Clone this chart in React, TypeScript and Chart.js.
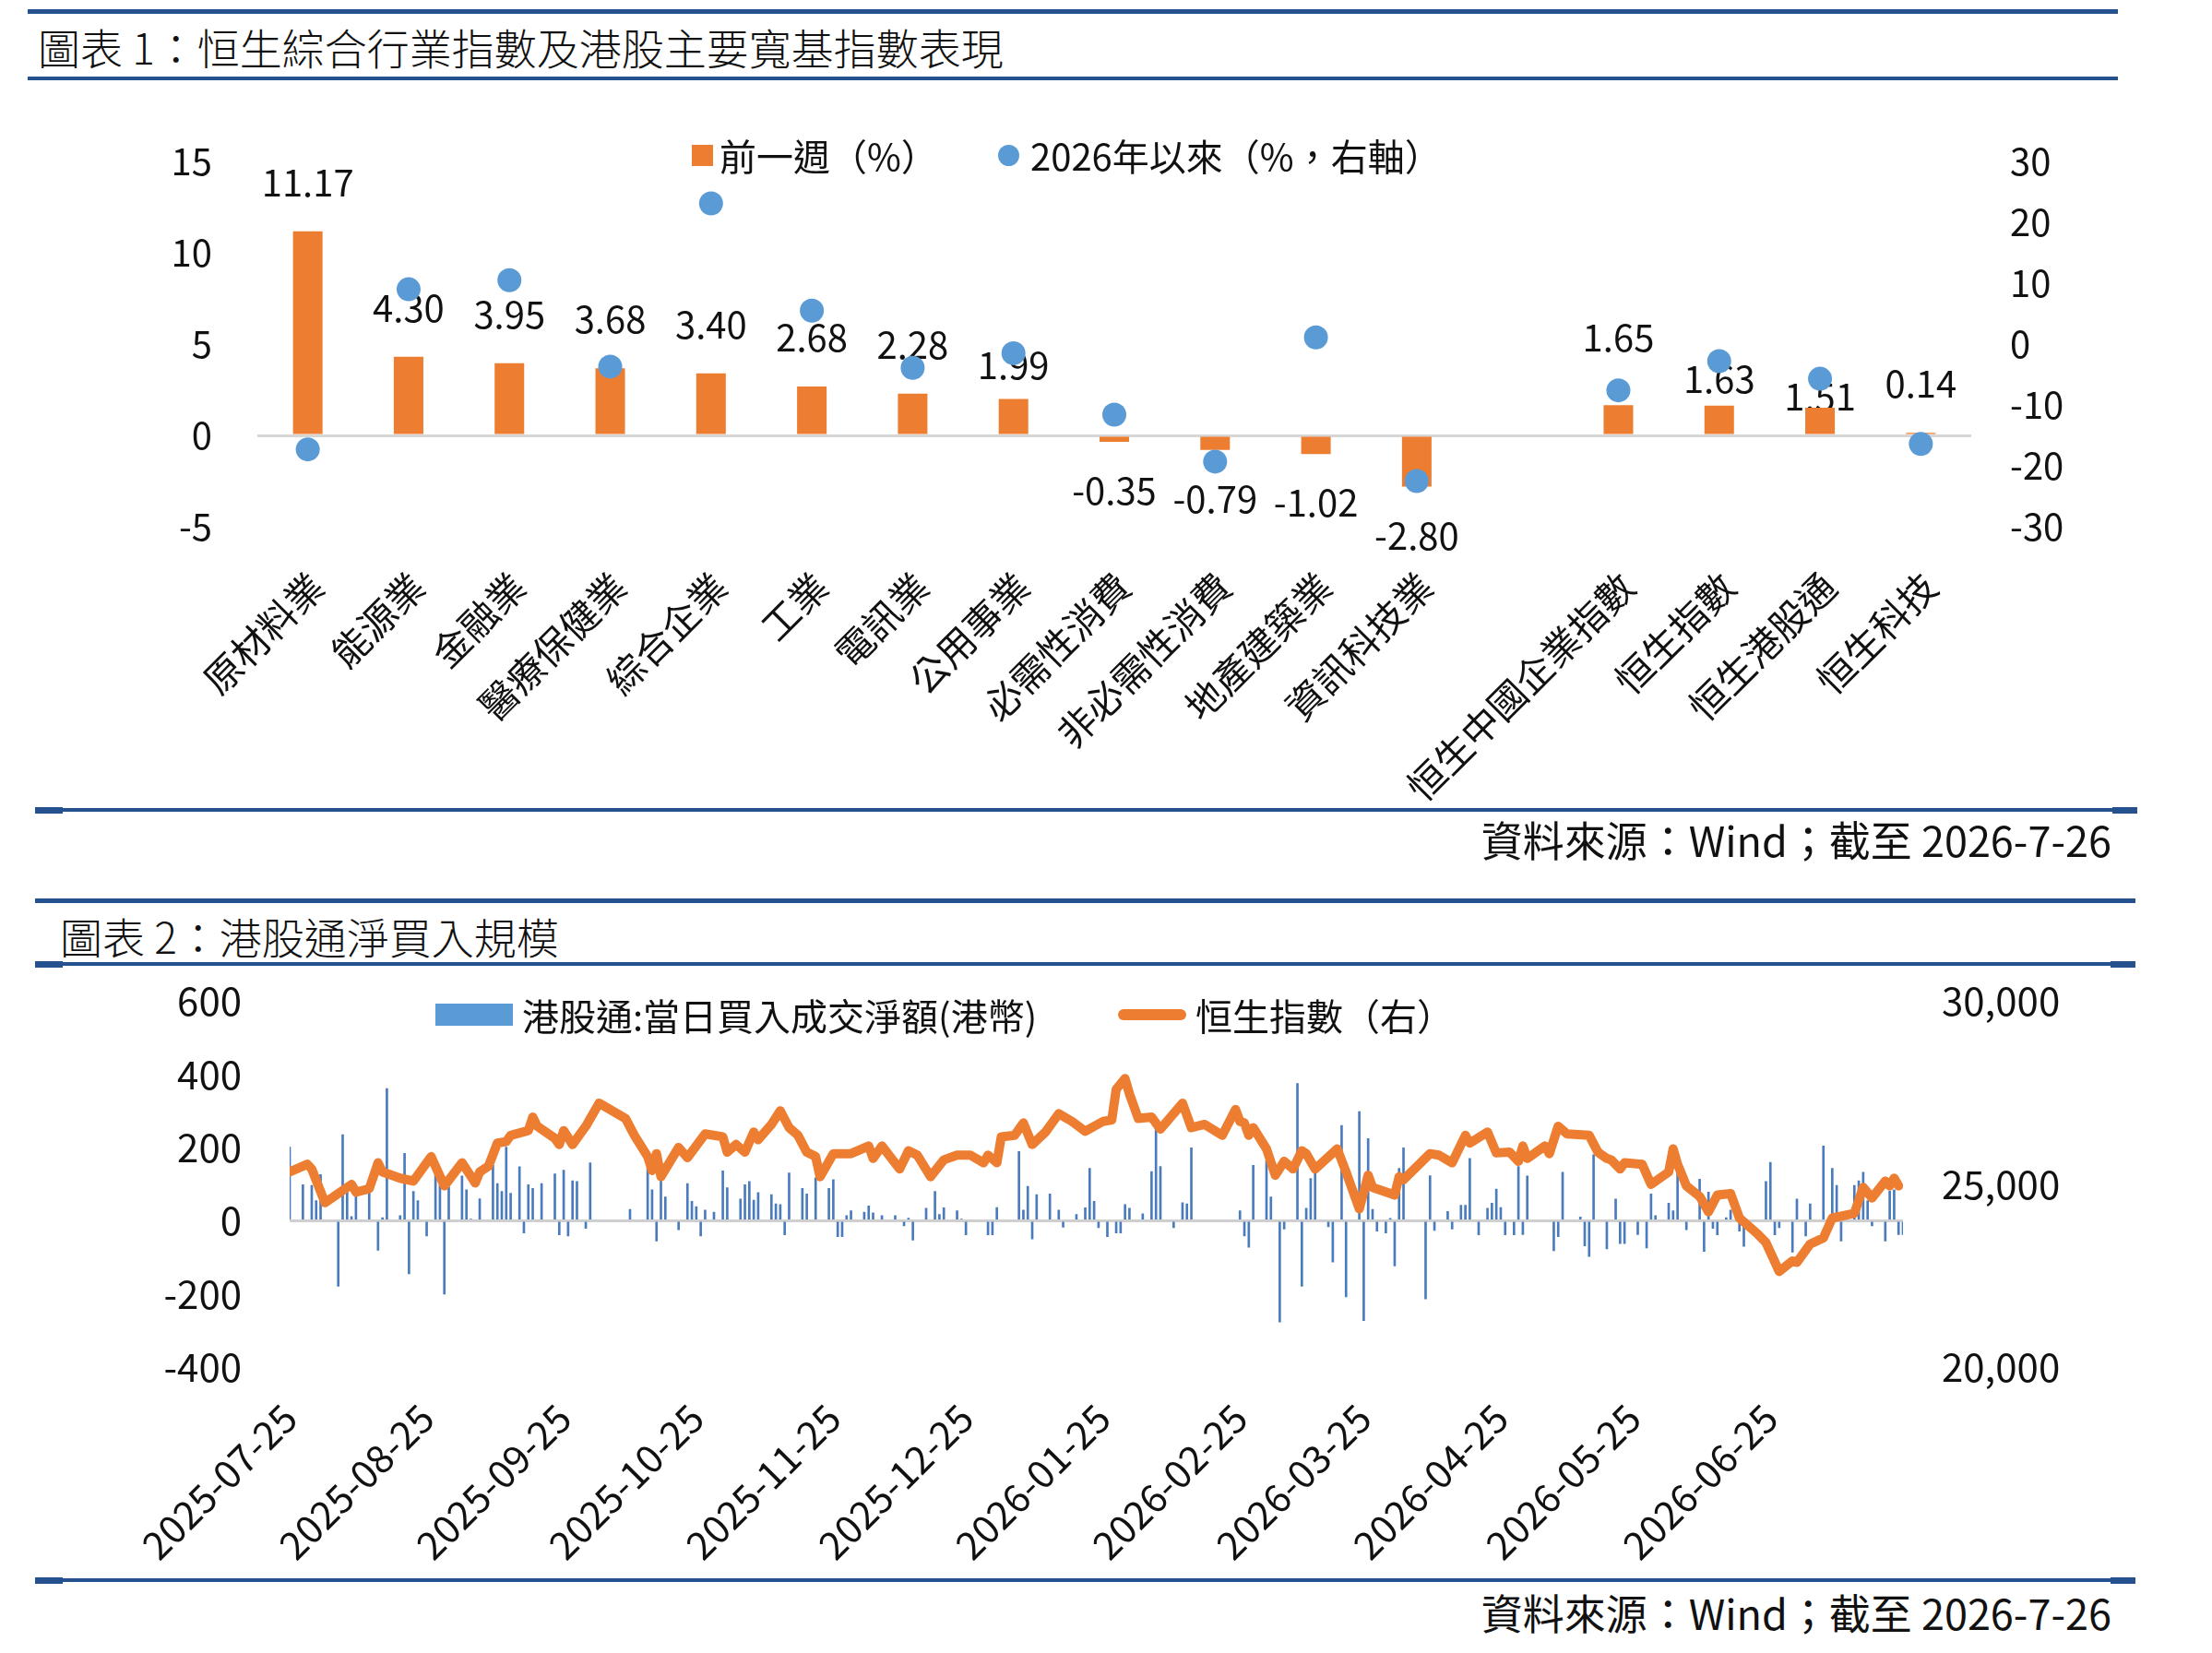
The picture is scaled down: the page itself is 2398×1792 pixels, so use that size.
import React, { useEffect, useRef } from 'react';
import { Chart, registerables } from 'chart.js';

Chart.register(...registerables);

const FONT = '"Noto Sans CJK TC", "Noto Sans", sans-serif';

// ---------- Chart 1 data ----------
const sectorCategories = [
  '原材料業', '能源業', '金融業', '醫療保健業', '綜合企業', '工業', '電訊業', '公用事業',
  '必需性消費', '非必需性消費', '地產建築業', '資訊科技業', '',
  '恒生中國企業指數', '恒生指數', '恒生港股通', '恒生科技',
];
const weeklyChange = [11.17, 4.3, 3.95, 3.68, 3.4, 2.68, 2.28, 1.99, -0.35, -0.79, -1.02, -2.8, null, 1.65, 1.63, 1.51, 0.14];
const ytdChange = [-17.3, 9.0, 10.5, -3.7, 23.1, 5.5, -3.9, -1.5, -11.6, -19.3, 1.1, -22.5, null, -7.6, -2.8, -5.7, -16.4];
const leftAxis1 = { min: -5, max: 15, step: 5 };
const rightAxis1 = { min: -30, max: 30, step: 10 };

// ---------- Chart 2 data ----------
const netBuyDates = [
  '2025-07-25', '2025-07-28', '2025-07-30', '2025-07-31', '2025-08-01', '2025-08-05', '2025-08-06', '2025-08-07',
  '2025-08-08', '2025-08-09', '2025-08-12', '2025-08-14', '2025-08-15', '2025-08-16', '2025-08-19', '2025-08-20',
  '2025-08-21', '2025-08-22', '2025-08-23', '2025-08-25', '2025-08-27', '2025-08-28', '2025-08-29', '2025-08-30',
  '2025-09-02', '2025-09-03', '2025-09-04', '2025-09-06', '2025-09-09', '2025-09-10', '2025-09-11', '2025-09-12',
  '2025-09-13', '2025-09-15', '2025-09-16', '2025-09-17', '2025-09-18', '2025-09-20', '2025-09-23', '2025-09-24',
  '2025-09-25', '2025-09-26', '2025-09-27', '2025-09-28', '2025-09-30', '2025-10-01', '2025-10-10', '2025-10-14',
  '2025-10-15', '2025-10-16', '2025-10-17', '2025-10-18', '2025-10-21', '2025-10-23', '2025-10-24', '2025-10-25',
  '2025-10-26', '2025-10-27', '2025-10-29', '2025-10-31', '2025-11-01', '2025-11-04', '2025-11-05', '2025-11-06',
  '2025-11-07', '2025-11-08', '2025-11-11', '2025-11-12', '2025-11-13', '2025-11-14', '2025-11-15', '2025-11-18',
  '2025-11-19', '2025-11-21', '2025-11-24', '2025-11-25', '2025-11-26', '2025-11-27', '2025-11-28', '2025-11-29',
  '2025-12-02', '2025-12-03', '2025-12-04', '2025-12-06', '2025-12-09', '2025-12-11', '2025-12-12', '2025-12-13',
  '2025-12-16', '2025-12-18', '2025-12-19', '2025-12-20', '2025-12-23', '2025-12-24', '2025-12-25', '2025-12-30',
  '2025-12-31', '2026-01-01', '2026-01-06', '2026-01-07', '2026-01-08', '2026-01-09', '2026-01-10', '2026-01-13',
  '2026-01-15', '2026-01-16', '2026-01-19', '2026-01-21', '2026-01-22', '2026-01-23', '2026-01-24', '2026-01-26',
  '2026-01-28', '2026-01-29', '2026-01-30', '2026-01-31', '2026-02-03', '2026-02-05', '2026-02-06', '2026-02-07',
  '2026-02-10', '2026-02-12', '2026-02-13', '2026-02-14', '2026-02-25', '2026-02-26', '2026-02-27', '2026-02-28',
  '2026-03-03', '2026-03-04', '2026-03-06', '2026-03-07', '2026-03-10', '2026-03-11', '2026-03-12', '2026-03-13',
  '2026-03-14', '2026-03-17', '2026-03-18', '2026-03-20', '2026-03-21', '2026-03-24', '2026-03-25', '2026-03-26',
  '2026-03-27', '2026-03-28', '2026-03-30', '2026-03-31', '2026-04-01', '2026-04-02', '2026-04-03', '2026-04-08',
  '2026-04-09', '2026-04-10', '2026-04-13', '2026-04-14', '2026-04-16', '2026-04-17', '2026-04-18', '2026-04-20',
  '2026-04-22', '2026-04-23', '2026-04-24', '2026-04-25', '2026-04-26', '2026-04-28', '2026-04-29', '2026-04-30',
  '2026-05-01', '2026-05-07', '2026-05-08', '2026-05-09', '2026-05-13', '2026-05-14', '2026-05-15', '2026-05-16',
  '2026-05-19', '2026-05-21', '2026-05-22', '2026-05-23', '2026-05-26', '2026-05-28', '2026-05-29', '2026-05-30',
  '2026-06-02', '2026-06-03', '2026-06-04', '2026-06-06', '2026-06-09', '2026-06-10', '2026-06-11', '2026-06-12',
  '2026-06-13', '2026-06-15', '2026-06-16', '2026-06-18', '2026-06-19', '2026-06-24', '2026-06-25', '2026-06-26',
  '2026-06-27', '2026-06-30', '2026-07-01', '2026-07-03', '2026-07-04', '2026-07-07', '2026-07-09', '2026-07-10',
  '2026-07-11', '2026-07-14', '2026-07-15', '2026-07-16', '2026-07-17', '2026-07-18', '2026-07-21', '2026-07-22',
  '2026-07-23', '2026-07-24', '2026-07-25',
];
const netBuyValues = [
  201, 98, 96, 55, 126, -179, 235, 88,
  11, 75, 80, -81, 8, 361, 14, 184,
  -145, 80, 55, -42, 134, 96, -201, 92,
  122, 84, 4, 60, 151, 101, 80, 201,
  75, 147, -34, 98, 88, 101, 128, -39,
  138, -42, 109, 107, -21, 158, 31, 143,
  84, -56, 134, 65, -25, 101, 53, 38,
  -42, 29, 23, 136, 90, 59, 98, 107,
  56, 77, 71, 46, 44, -39, 130, 88,
  73, 117, 88, 112, -44, -44, 14, 27,
  23, 40, 21, 14, 14, -14, 7, -53,
  34, 80, 17, 35, 27, 4, -39, -39,
  -39, 36, 189, 29, 94, -50, 71, 73,
  29, -18, 17, 35, 143, 53, -19, -44,
  -34, -34, 44, 34, 19, 134, 264, 148,
  -19, 49, 46, 199, 27, -42, -73, 151,
  164, 65, -277, -23, 375, -179, 34, 115,
  138, -17, -113, 260, -208, 298, -273, 224,
  31, -29, -34, 6, -124, 143, 199, -214,
  123, -27, 25, -23, 42, 42, 170, -39,
  34, 48, 86, 36, -39, -39, 148, -38,
  122, -82, -44, 132, 10, -69, -98, 180,
  -77, 59, -63, -63, -38, -75, 73, 14,
  48, 27, 130, -25, 113, -84, 78, -21,
  -39, 8, 29, -29, -70, 107, 159, -39,
  -19, -86, 59, -42, 46, 204, 143, 96,
  -56, 96, 109, 132, 55, -14, -56, 81,
  84, -38, -38,
];
const hsiDates = [
  '2025-07-25', '2025-07-29', '2025-07-30', '2025-08-02', '2025-08-05', '2025-08-08', '2025-08-09', '2025-08-12',
  '2025-08-14', '2025-08-15', '2025-08-19', '2025-08-22', '2025-08-26', '2025-08-29', '2025-09-02', '2025-09-05',
  '2025-09-06', '2025-09-08', '2025-09-10', '2025-09-12', '2025-09-13', '2025-09-17', '2025-09-18', '2025-09-19',
  '2025-09-23', '2025-09-24', '2025-09-25', '2025-09-27', '2025-09-30', '2025-10-03', '2025-10-09', '2025-10-11',
  '2025-10-14', '2025-10-15', '2025-10-16', '2025-10-17', '2025-10-21', '2025-10-23', '2025-10-27', '2025-10-31',
  '2025-11-01', '2025-11-03', '2025-11-05', '2025-11-07', '2025-11-08', '2025-11-11', '2025-11-13', '2025-11-15',
  '2025-11-17', '2025-11-19', '2025-11-21', '2025-11-22', '2025-11-25', '2025-11-29', '2025-12-03', '2025-12-04',
  '2025-12-06', '2025-12-10', '2025-12-12', '2025-12-14', '2025-12-17', '2025-12-20', '2025-12-23', '2025-12-26',
  '2025-12-29', '2025-12-30', '2026-01-01', '2026-01-02', '2026-01-05', '2026-01-07', '2026-01-09', '2026-01-12',
  '2026-01-15', '2026-01-18', '2026-01-21', '2026-01-25', '2026-01-27', '2026-01-28', '2026-01-30', '2026-01-31',
  '2026-02-02', '2026-02-05', '2026-02-07', '2026-02-12', '2026-02-14', '2026-02-17', '2026-02-21', '2026-02-24',
  '2026-02-25', '2026-02-26', '2026-02-27', '2026-02-28', '2026-03-03', '2026-03-05', '2026-03-07', '2026-03-09',
  '2026-03-11', '2026-03-12', '2026-03-14', '2026-03-19', '2026-03-21', '2026-03-24', '2026-03-26', '2026-03-27',
  '2026-04-01', '2026-04-02', '2026-04-03', '2026-04-09', '2026-04-11', '2026-04-14', '2026-04-17', '2026-04-18',
  '2026-04-22', '2026-04-24', '2026-04-27', '2026-04-29', '2026-04-30', '2026-05-01', '2026-05-05', '2026-05-06',
  '2026-05-08', '2026-05-10', '2026-05-15', '2026-05-17', '2026-05-19', '2026-05-20', '2026-05-22', '2026-05-23',
  '2026-05-27', '2026-05-29', '2026-06-02', '2026-06-03', '2026-06-04', '2026-06-06', '2026-06-09', '2026-06-11',
  '2026-06-13', '2026-06-16', '2026-06-18', '2026-06-22', '2026-06-24', '2026-06-27', '2026-06-30', '2026-07-01',
  '2026-07-04', '2026-07-07', '2026-07-09', '2026-07-14', '2026-07-16', '2026-07-18', '2026-07-21', '2026-07-22',
  '2026-07-23', '2026-07-24',
];
const hsiValues = [
  25330, 25540, 25410, 24490, 24740, 24990, 24780, 24870,
  25580, 25330, 25160, 25080, 25750, 24950, 25580, 25030,
  25330, 25490, 26120, 26160, 26330, 26460, 26830, 26580,
  26250, 26080, 26460, 26080, 26580, 27210, 26790, 26330,
  25750, 25370, 25830, 25200, 26000, 25720, 26370, 26290,
  25870, 26080, 25870, 26420, 26210, 26630, 27000, 26540,
  26330, 25870, 25750, 25200, 25830, 25830, 26040, 25700,
  26040, 25410, 25910, 25790, 25200, 25660, 25790, 25790,
  25580, 25790, 25580, 26290, 26330, 26670, 26080, 26420,
  26920, 26710, 26440, 26710, 26750, 27590, 27880, 27460,
  26790, 26830, 26500, 27210, 26540, 26630, 26330, 27040,
  26710, 26670, 26330, 26540, 25960, 25240, 25620, 25410,
  25910, 25830, 25410, 25960, 25330, 24320, 25240, 24910,
  24700, 25200, 25120, 25830, 25790, 25580, 26330, 26120,
  26420, 25850, 25870, 25620, 26040, 25700, 26040, 25830,
  26580, 26370, 26330, 25870, 25700, 25660, 25410, 25580,
  25540, 24990, 25330, 25960, 25540, 24950, 24660, 24240,
  24700, 24740, 24070, 23650, 23400, 22610, 22900, 22860,
  23360, 23530, 24070, 24200, 24910, 24620, 25080, 24950,
  25160, 24950,
];
const xTickDates = [
  '2025-07-25', '2025-08-25', '2025-09-25', '2025-10-25', '2025-11-25', '2025-12-25',
  '2026-01-25', '2026-02-25', '2026-03-25', '2026-04-25', '2026-05-25', '2026-06-25',
];
const xRange2 = { start: '2025-07-25', end: '2026-07-25' };
const leftAxis2 = { min: -400, max: 600, step: 200 };
const rightAxis2 = { min: 20000, max: 30000, step: 5000 };

const ts = (d: string) => {
  const [y, m, dd] = d.split('-').map(Number);
  return Date.UTC(y, m - 1, dd);
};

const LINE_BLUE = '#26518f';
const ORANGE = '#ED7D31';
const DOT_BLUE = '#5B9BD5';
const BAR_BLUE = '#4a7bbd';

const barValueLabels = {
  id: 'barValueLabels',
  beforeDatasetsDraw(chart: any, _args: any, opts: any) {
    const meta = chart.getDatasetMeta(0);
    const ctx = chart.ctx;
    ctx.save();
    ctx.font = `${opts.size}px ${FONT}`;
    ctx.fillStyle = '#111';
    ctx.textAlign = 'center';
    ctx.textBaseline = 'middle';
    meta.data.forEach((el: any, i: number) => {
      const v = weeklyChange[i];
      if (v === null || v === undefined) return;
      const off = opts.offsets[sectorCategories[i]] ?? opts.defaultOffset;
      const y = v >= 0 ? el.y - off : el.y + off;
      ctx.fillText(v.toFixed(2), el.x, y);
    });
    ctx.restore();
  },
};

const zeroGrid = (color: string) => (c: any) => (c.tick && c.tick.value === 0 ? color : 'rgba(0,0,0,0)');

function SectorChart() {
  const ref = useRef<HTMLCanvasElement>(null);
  useEffect(() => {
    const chart = new Chart(ref.current as HTMLCanvasElement, {
      type: 'bar',
      data: {
        labels: sectorCategories,
        datasets: [
          {
            type: 'bar',
            label: '前一週（%）',
            data: weeklyChange as any,
            backgroundColor: ORANGE,
            yAxisID: 'y',
            barPercentage: 0.293,
            categoryPercentage: 1,
            order: 2,
          } as any,
          {
            type: 'line',
            label: '2026年以來（%，右軸）',
            data: ytdChange as any,
            yAxisID: 'y1',
            showLine: false,
            pointRadius: 13,
            pointHoverRadius: 13,
            pointBackgroundColor: DOT_BLUE,
            pointBorderWidth: 0,
            borderColor: DOT_BLUE,
            order: 1,
          } as any,
        ],
      },
      options: {
        animation: false,
        responsive: false,
        devicePixelRatio: 1,
        layout: { padding: { top: 75, left: 0, right: 0, bottom: 0 } },
        plugins: {
          legend: { display: false },
          tooltip: { enabled: false },
          barValueLabels: {
            size: 40,
            defaultOffset: 53,
            offsets: { '公用事業': 37, '恒生中國企業指數': 74, '恒生指數': 29, '恒生港股通': 12 },
          },
        } as any,
        scales: {
          x: {
            grid: { display: false, drawTicks: false },
            border: { display: false },
            ticks: {
              autoSkip: false,
              minRotation: 45,
              maxRotation: 45,
              padding: 40,
              labelOffset: 10,
              color: '#111',
              font: { family: FONT, size: 41 },
            },
            afterFit: (s: any) => { s.height = 319; },
          },
          y: {
            position: 'left',
            min: leftAxis1.min,
            max: leftAxis1.max,
            ticks: { stepSize: leftAxis1.step, padding: 49, color: '#111', font: { family: FONT, size: 40 } },
            grid: { drawTicks: false, color: zeroGrid('#d6d6d6'), lineWidth: 3 },
            border: { display: false },
            afterFit: (s: any) => { s.width = 279; },
          },
          y1: {
            position: 'right',
            min: rightAxis1.min,
            max: rightAxis1.max,
            ticks: { stepSize: rightAxis1.step, padding: 42, color: '#111', font: { family: FONT, size: 40 } },
            grid: { display: false, drawTicks: false },
            border: { display: false },
            afterFit: (s: any) => { s.width = 261; },
          },
        } as any,
      },
      plugins: [barValueLabels],
    });
    return () => chart.destroy();
  }, []);
  return (
    <canvas ref={ref} width={2398} height={790}
      style={{ position: 'absolute', left: 0, top: 100, width: 2398, height: 790 }} />
  );
}

function FlowChart() {
  const ref = useRef<HTMLCanvasElement>(null);
  useEffect(() => {
    const tickTs = xTickDates.map(ts);
    const chart = new Chart(ref.current as HTMLCanvasElement, {
      type: 'bar',
      data: {
        datasets: [
          {
            type: 'bar',
            label: '港股通:當日買入成交淨額(港幣)',
            data: netBuyDates.map((d, i) => ({ x: ts(d), y: netBuyValues[i] })),
            backgroundColor: BAR_BLUE,
            barThickness: 2,
            yAxisID: 'y',
            order: 2,
          } as any,
          {
            type: 'line',
            label: '恒生指數（右）',
            data: hsiDates.map((d, i) => ({ x: ts(d), y: hsiValues[i] })),
            borderColor: ORANGE,
            borderWidth: 10,
            pointRadius: 0,
            tension: 0,
            borderJoinStyle: 'round',
            borderCapStyle: 'round',
            yAxisID: 'y1',
            order: 1,
          } as any,
        ],
      },
      options: {
        animation: false,
        responsive: false,
        devicePixelRatio: 1,
        layout: { padding: { top: 0, left: 0, right: 0, bottom: 0 } },
        plugins: { legend: { display: false }, tooltip: { enabled: false } },
        scales: {
          x: {
            type: 'linear',
            min: ts(xRange2.start),
            max: ts(xRange2.end),
            offset: false,
            grid: { display: false, drawTicks: false },
            border: { display: false },
            afterBuildTicks: (s: any) => { s.ticks = tickTs.map((v) => ({ value: v })); },
            ticks: {
              autoSkip: false,
              minRotation: 45,
              maxRotation: 45,
              padding: 30,
              color: '#111',
              font: { family: FONT, size: 42 },
              callback: (_v: any, i: number) => xTickDates[i],
            },
            afterFit: (s: any) => { s.height = 228; },
          },
          y: {
            position: 'left',
            min: leftAxis2.min,
            max: leftAxis2.max,
            ticks: { stepSize: leftAxis2.step, padding: 52, color: '#111', font: { family: FONT, size: 42 } },
            grid: { drawTicks: false, color: zeroGrid('#cfcfcf'), lineWidth: 3 },
            border: { display: false },
            afterFit: (s: any) => { s.width = 314; },
          },
          y1: {
            position: 'right',
            min: rightAxis2.min,
            max: rightAxis2.max,
            ticks: {
              stepSize: rightAxis2.step,
              padding: 42,
              color: '#111',
              font: { family: FONT, size: 42 },
              callback: (v: any) => Number(v).toLocaleString('en-US'),
            },
            grid: { display: false, drawTicks: false },
            border: { display: false },
            afterFit: (s: any) => { s.width = 335; },
          },
        } as any,
      },
    });
    return () => chart.destroy();
  }, []);
  // chart area top = y-axis label half height + tick padding (~77px) -> canvas placed so plot top sits at y=1085
  return (
    <canvas ref={ref} width={2398} height={702}
      style={{ position: 'absolute', left: 0, top: 1008, width: 2398, height: 702 }} />
  );
}

function HLine({ x1, x2, y, t = 4 }: { x1: number; x2: number; y: number; t?: number }) {
  return <div style={{ position: 'absolute', left: x1, top: y - t / 2, width: x2 - x1, height: t, background: LINE_BLUE }} />;
}

function Text({ x, y, size, children, right, weight }: any) {
  const style: any = {
    position: 'absolute',
    top: y - size / 2,
    fontSize: size,
    lineHeight: `${size}px`,
    whiteSpace: 'nowrap',
    color: '#111',
    fontFamily: FONT,
    fontWeight: weight ?? 400,
  };
  if (right !== undefined) style.right = right; else style.left = x;
  return <div style={style}>{children}</div>;
}

export default function App() {
  return (
    <div style={{ position: 'absolute', left: 0, top: 0, width: 2398, height: 1792, background: '#fff', overflow: 'hidden' }}>
      {/* Chart 1 frame */}
      <HLine x1={30} x2={2296} y={12} t={5} />
      <Text x={41} y={50} size={46} weight={300}>圖表 1：恒生綜合行業指數及港股主要寬基指數表現</Text>
      <HLine x1={30} x2={2296} y={85} t={4} />
      <SectorChart />
      <div style={{ position: 'absolute', left: 750, top: 157, width: 23, height: 23, background: ORANGE }} />
      <Text x={780} y={168} size={40}>前一週（%）</Text>
      <div style={{ position: 'absolute', left: 1082, top: 157, width: 23, height: 23, borderRadius: '50%', background: DOT_BLUE }} />
      <Text x={1117} y={168} size={40}>2026年以來（%，右軸）</Text>
      <HLine x1={38} x2={2317} y={878} t={4} />
      <HLine x1={38} x2={68} y={878} t={7} />
      <HLine x1={2290} x2={2317} y={878} t={7} />
      <Text right={109} y={909} size={45}>資料來源：Wind；截至 2026-7-26</Text>

      {/* Chart 2 frame */}
      <HLine x1={38} x2={2315} y={976} t={5} />
      <Text x={65} y={1014} size={46} weight={300}>圖表 2：港股通淨買入規模</Text>
      <HLine x1={38} x2={2315} y={1045} t={4} />
      <HLine x1={38} x2={68} y={1045} t={7} />
      <HLine x1={2288} x2={2315} y={1045} t={7} />
      <FlowChart />
      <div style={{ position: 'absolute', left: 472, top: 1088, width: 84, height: 24, background: DOT_BLUE }} />
      <Text x={566} y={1100} size={40}>港股通:當日買入成交淨額(港幣)</Text>
      <div style={{ position: 'absolute', left: 1212, top: 1094, width: 74, height: 12, borderRadius: 6, background: ORANGE }} />
      <Text x={1296} y={1100} size={40}>恒生指數（右）</Text>
      <HLine x1={38} x2={2315} y={1713} t={4} />
      <HLine x1={38} x2={68} y={1713} t={7} />
      <HLine x1={2288} x2={2315} y={1713} t={7} />
      <Text right={109} y={1747} size={45}>資料來源：Wind；截至 2026-7-26</Text>
    </div>
  );
}
